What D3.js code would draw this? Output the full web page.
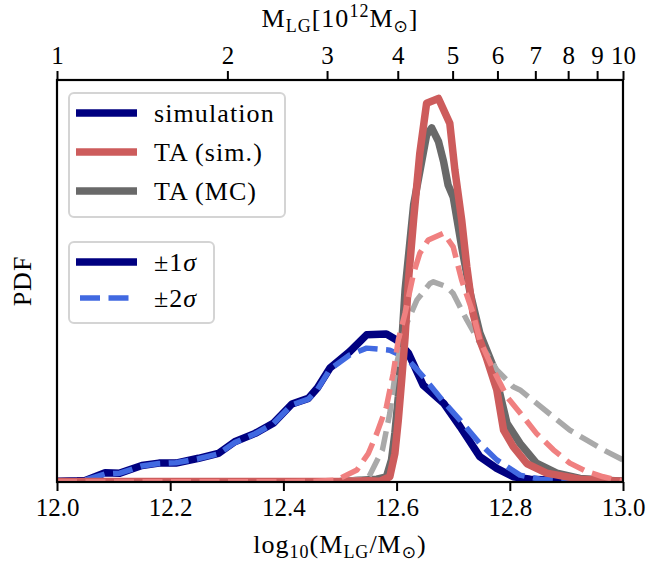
<!DOCTYPE html>
<html lang="en">
  <head>
    <title>LG mass PDF</title>
    <script src="https://cdn.jsdelivr.net/npm/d3@7/dist/d3.min.js"></script>
    <style>
      body { margin: 0; background: #fff; }
      text { font-family: 'Liberation Serif', 'DejaVu Serif', serif; fill: #000; }
    </style>
  </head>

  <body>
    <div id='chart'></div>

    <script type='text/javascript'>
      // x values: log10(M_LG / Msun), y values: PDF
      let simMass1 = [12.00, 12.05, 12.085, 12.111, 12.15, 12.18, 12.21, 12.25, 12.285, 12.314, 12.35, 12.382, 12.415, 12.444, 12.46, 12.482, 12.517, 12.547, 12.582, 12.60, 12.621, 12.647, 12.683, 12.712, 12.747, 12.777, 12.806, 12.836, 12.924, 13.0];
      let simPdf1  = [0.02, 0.04, 0.23, 0.22, 0.41, 0.47, 0.47, 0.59, 0.71, 1.00, 1.21, 1.46, 1.94, 2.08, 2.34, 2.83, 3.24, 3.66, 3.68, 3.53, 3.20, 2.41, 1.96, 1.38, 0.63, 0.34, 0.13, 0.07, 0.02, 0.01];

      let simMass2 = [12.00, 12.05, 12.085, 12.111, 12.15, 12.18, 12.21, 12.25, 12.285, 12.314, 12.35, 12.382, 12.415, 12.444, 12.46, 12.482, 12.517, 12.547, 12.588, 12.618, 12.647, 12.683, 12.712, 12.747, 12.777, 12.818, 12.853, 12.924, 13.0];
      let simPdf2  = [0.02, 0.05, 0.20, 0.22, 0.40, 0.46, 0.48, 0.58, 0.70, 0.98, 1.20, 1.45, 1.92, 2.06, 2.30, 2.80, 3.16, 3.33, 3.28, 3.08, 2.62, 2.00, 1.54, 0.96, 0.55, 0.17, 0.07, 0.02, 0.01];

      let mcMass1 = [12.00, 12.50, 12.565, 12.582, 12.591, 12.597, 12.603, 12.615, 12.63, 12.653, 12.662, 12.674, 12.683, 12.691, 12.70, 12.715, 12.73, 12.747, 12.771, 12.795, 12.818, 12.847, 12.883, 12.924, 13.0];
      let mcPdf1  = [0.00, 0.01, 0.07, 0.13, 0.55, 1.22, 2.12, 4.78, 6.89, 8.63, 8.81, 8.47, 7.97, 7.39, 7.09, 5.85, 4.70, 3.71, 2.87, 1.46, 0.96, 0.47, 0.22, 0.09, 0.02];

      let mcMass2 = [12.00, 12.50, 12.55, 12.575, 12.588, 12.60, 12.618, 12.636, 12.659, 12.665, 12.688, 12.70, 12.724, 12.747, 12.777, 12.806, 12.818, 12.847, 12.877, 12.906, 12.936, 12.965, 13.0];
      let mcPdf2  = [0.00, 0.01, 0.10, 0.80, 1.71, 2.95, 3.95, 4.53, 4.94, 4.98, 4.86, 4.69, 4.03, 3.46, 2.79, 2.37, 2.29, 1.96, 1.62, 1.29, 1.04, 0.80, 0.55];

      let taMass1 = [12.00, 12.50, 12.55, 12.571, 12.588, 12.597, 12.603, 12.609, 12.615, 12.621, 12.63, 12.641, 12.653, 12.674, 12.694, 12.703, 12.715, 12.724, 12.735, 12.747, 12.758, 12.777, 12.789, 12.806, 12.83, 12.865, 12.924, 13.0];
      let taPdf1  = [0.01, 0.01, 0.03, 0.02, 0.13, 0.71, 1.54, 2.54, 3.61, 5.02, 6.52, 8.18, 9.42, 9.54, 8.92, 7.76, 6.52, 5.36, 4.20, 3.53, 3.12, 2.29, 1.29, 0.88, 0.46, 0.22, 0.07, 0.02];

      let taMass2 = [12.00, 12.45, 12.494, 12.53, 12.55, 12.565, 12.582, 12.594, 12.603, 12.615, 12.63, 12.641, 12.656, 12.683, 12.70, 12.715, 12.735, 12.747, 12.771, 12.795, 12.824, 12.847, 12.877, 12.906, 12.936, 12.965, 13.0];
      let taPdf2  = [0.00, 0.01, 0.05, 0.30, 0.71, 1.21, 1.87, 2.70, 3.53, 4.20, 5.19, 5.69, 6.02, 6.19, 5.85, 5.02, 4.20, 3.53, 2.79, 2.12, 1.62, 1.21, 0.80, 0.47, 0.26, 0.13, 0.01];

      let bottomTicks = [12.0, 12.2, 12.4, 12.6, 12.8, 13.0];
      let topTicks = [1, 2, 3, 4, 5, 6, 7, 8, 9, 10];
      let legendNames = ['simulation', 'TA (sim.)', 'TA (MC)'];
      let sigmaNames = ['1', '2'];

      let width = 648, height = 564;
      let plot = {left: 57, right: 623, top: 80, bottom: 482};

      let svg = d3.select('#chart').append('svg')
        .attr('width', width)
        .attr('height', height)

      let x = d3.scaleLinear().domain([12, 13]).range([plot.left, plot.right]);
      let xTop = d3.scaleLog().domain([1, 10]).range([plot.left, plot.right]);
      let y = d3.scaleLinear().domain([0, 10]).range([plot.bottom, plot.top]);

      svg.append('defs').append('clipPath').attr('id', 'clip')
        .append('rect')
        .attr('x', plot.left).attr('y', plot.top)
        .attr('width', plot.right - plot.left).attr('height', plot.bottom - plot.top)

      let line = d3.line().x(d => x(d[0])).y(d => y(d[1]));
      let curves = [
        { m: simMass1, p: simPdf1, color: '#000080', w: 7.5, dash: null },
        { m: simMass2, p: simPdf2, color: '#4169e1', w: 5.5, dash: '20,8.5' },
        { m: mcMass1, p: mcPdf1, color: '#696969', w: 7.5, dash: null },
        { m: mcMass2, p: mcPdf2, color: '#a9a9a9', w: 5.5, dash: '20,8.5' },
        { m: taMass1, p: taPdf1, color: '#cd5c5c', w: 7.5, dash: null },
        { m: taMass2, p: taPdf2, color: '#f08080', w: 5.5, dash: '20,8.5' }
      ];

      svg.append('g').attr('clip-path', 'url(#clip)')
        .selectAll('path')
        .data(curves)
        .enter()
        .append('path')
        .attr('d', c => line(c.m.map((v, i) => [v, c.p[i]])))
        .attr('fill', 'none')
        .attr('stroke', c => c.color)
        .attr('stroke-width', c => c.w)
        .attr('stroke-dasharray', c => c.dash)
        .attr('stroke-linejoin', 'round')

      // frame
      svg.append('rect')
        .attr('x', plot.left).attr('y', plot.top)
        .attr('width', plot.right - plot.left).attr('height', plot.bottom - plot.top)
        .attr('fill', 'none')
        .attr('stroke', '#000')
        .attr('stroke-width', 2.2)

      let bottomAxis = svg.append('g')
        .attr('transform', 'translate(0,' + plot.bottom + ')')
        .call(d3.axisBottom(x).tickValues(bottomTicks).tickFormat(d3.format('.1f')).tickSize(9).tickPadding(7))
      bottomAxis.select('.domain').remove()

      let topAxis = svg.append('g')
        .attr('transform', 'translate(0,' + plot.top + ')')
        .call(d3.axisTop(xTop).tickValues(topTicks).tickFormat(d3.format('d')).tickSize(9).tickPadding(7))
      topAxis.select('.domain').remove()

      svg.selectAll('.tick line').attr('stroke', '#000').attr('stroke-width', 2)
      svg.selectAll('.tick text')
        .attr('font-family', "'Liberation Serif', serif")
        .attr('font-size', 25)
        .attr('fill', '#000')

      // axis titles
      let xlab = svg.append('text')
        .attr('x', (plot.left + plot.right) / 2).attr('y', 553)
        .attr('text-anchor', 'middle')
        .attr('font-size', 26)
        .attr('letter-spacing', 1)
      xlab.append('tspan').text('log')
      xlab.append('tspan').attr('font-size', 18).attr('dy', 5).text('10')
      xlab.append('tspan').attr('dy', -5).text('(M')
      xlab.append('tspan').attr('font-size', 18).attr('dy', 5).text('LG')
      xlab.append('tspan').attr('dy', -5).text('/M')
      xlab.append('tspan').attr('font-size', 17).attr('dy', 5).attr('font-family', 'DejaVu Sans').text('\u2299')
      xlab.append('tspan').attr('dy', -5).text(')')

      let tlab = svg.append('text')
        .attr('x', (plot.left + plot.right) / 2).attr('y', 27)
        .attr('text-anchor', 'middle')
        .attr('font-size', 26)
        .attr('letter-spacing', 1)
      tlab.append('tspan').text('M')
      tlab.append('tspan').attr('font-size', 18).attr('dy', 5).text('LG')
      tlab.append('tspan').attr('dy', -5).text('[10')
      tlab.append('tspan').attr('font-size', 18).attr('dy', -10).text('12')
      tlab.append('tspan').attr('dy', 10).text('M')
      tlab.append('tspan').attr('font-size', 17).attr('dy', 5).attr('font-family', 'DejaVu Sans').text('\u2299')
      tlab.append('tspan').attr('dy', -5).text(']')

      svg.append('text')
        .attr('transform', 'translate(31,' + ((plot.top + plot.bottom) / 2) + ') rotate(-90)')
        .attr('text-anchor', 'middle')
        .attr('font-size', 26)
        .attr('letter-spacing', 1)
        .text('PDF')

      // legends
      function legendBox(x0, y0, w, h){
        svg.append('rect')
          .attr('x', x0).attr('y', y0)
          .attr('width', w).attr('height', h)
          .attr('rx', 5)
          .attr('fill', 'rgba(255,255,255,0.8)')
          .attr('stroke', '#d4d4d4')
          .attr('stroke-width', 2)
      }

      legendBox(69, 93, 216, 124)
      let leg1 = svg.append('g').selectAll('g')
        .data(legendNames)
        .enter()
        .append('g')
        .attr('transform', (d, i) => 'translate(0,' + (113 + i * 39) + ')')
      leg1.append('line')
        .attr('x1', 76).attr('x2', 137)
        .attr('stroke', (d, i) => [curves[0].color, curves[4].color, curves[2].color][i])
        .attr('stroke-width', 7.5)
      leg1.append('text')
        .attr('x', 154).attr('y', 9)
        .attr('font-size', 26)
        .attr('letter-spacing', 1.1)
        .text(d => d)

      legendBox(69, 242, 145, 81)
      let leg2 = svg.append('g').selectAll('g')
        .data(sigmaNames)
        .enter()
        .append('g')
        .attr('transform', (d, i) => 'translate(0,' + (262 + i * 36) + ')')
      leg2.append('line')
        .attr('x1', (d, i) => i == 0 ? 76 : 80).attr('x2', (d, i) => i == 0 ? 137 : 130)
        .attr('stroke', (d, i) => i == 0 ? '#000080' : '#4169e1')
        .attr('stroke-width', (d, i) => i == 0 ? 7.5 : 5.5)
        .attr('stroke-dasharray', (d, i) => i == 0 ? null : '20,8.5')
      let lt = leg2.append('text')
        .attr('x', 154).attr('y', 9)
        .attr('font-size', 26)
        .attr('letter-spacing', 1)
      lt.append('tspan').text(d => '\u00b1' + d)
      lt.append('tspan').attr('font-style', 'italic').text('\u03c3')
    </script>
  </body>
</html>
